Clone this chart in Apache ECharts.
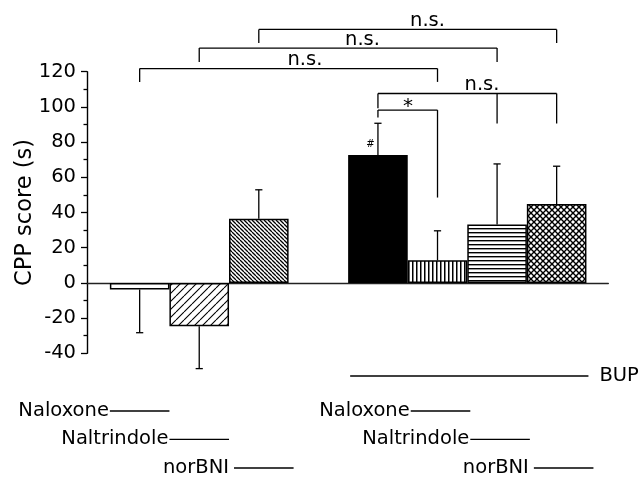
<!DOCTYPE html>
<html><head><meta charset="utf-8">
<script src="https://cdn.jsdelivr.net/npm/echarts/dist/echarts.min.js"></script>
<style>html,body{margin:0;padding:0;background:#fff}#c{width:643px;height:478px}</style>
</head><body><div id="c"></div>
<script>
// ---------- data ----------
const categories = ['Naloxone', 'Naltrindole', 'norBNI', '', 'BUP', 'BUP + Naloxone', 'BUP + Naltrindole', 'BUP + norBNI'];
const cppMean = [-3.8, -24.6, 36.4, null, 72.7, 12.8, 33.2, 44.9];
const cppSem  = [24.5, 24.1, 16.5, null, 18.0, 16.8, 34.4, 21.4];
const barMarks = ['', '', '', '', '#', '', '', ''];
const yTickLabels = ['-40', '-20', '0', '20', '40', '60', '80', '100', '120'];
// significance comparisons (category indices, 0-based) and labels
const bracketLegs = [[2, 7], [1, 6], [0, 5], [4, 6, 7], [4, 5]];
const bracketLabel = ['n.s.', 'n.s.', 'n.s.', 'n.s.', '*'];
// treatment rows under the plot
const rowLabels = ['Naloxone', 'Naltrindole', 'norBNI'];
const rowLeftCat = [0, 1, 2];
const rowRightCat = [5, 6, 7];
const bupLabel = 'BUP';
const bupCats = [4, 7];

// ---------- layout (not data) ----------
const FONT = '"DejaVu Sans", sans-serif';
const bracketTop = [144.0, 133.4, 121.8, 107.6, 98.2];
const bracketLegBottom = [[136.3, 136.3], [125.5, 125.5], [114.2, 114.2], [99.3, 90.6, 90.6], [94.0, 48.5]];
const bracketTextX = [5.832, 4.741, 3.775, 6.747, 5.505];
const rowOffsetPx = [57.7, 86, 114.7];
const rowShiftPx = [[0, 3], [0, 3], [5, 7]];
const bupOffsetPx = 22.7;

function makePattern(w, h, draw) {
  const c = document.createElement('canvas');
  c.width = w; c.height = h;
  const g = c.getContext('2d');
  g.fillStyle = '#fff'; g.fillRect(0, 0, w, h);
  g.strokeStyle = '#000'; g.fillStyle = '#000';
  draw(g, w, h);
  return { image: c, repeat: 'repeat' };
}
function diag(g, s, lw, dir) {
  g.lineWidth = lw;
  g.beginPath();
  for (let k = -1; k <= 1; k++) {
    if (dir > 0) { g.moveTo(k * s, s); g.lineTo(k * s + s, 0); }
    else { g.moveTo(k * s, 0); g.lineTo(k * s + s, s); }
  }
  g.stroke();
}
const fills = [
  '#fff',
  makePattern(8, 8, (g) => diag(g, 8, 1.1, 1)),
  makePattern(4, 4, (g) => diag(g, 4, 1.3, -1)),
  '#000',
  makePattern(4, 4, (g) => g.fillRect(0, 0, 1.5, 4)),
  makePattern(4, 4, (g) => g.fillRect(0, 0, 4, 1.4)),
  makePattern(6, 6, (g) => { diag(g, 6, 1.4, 1); diag(g, 6, 1.4, -1); })
];

const barData = [];
const errData = [];
cppMean.forEach((v, i) => {
  if (v == null) return;
  barData.push({ value: [i + 1, v], name: categories[i], itemStyle: { color: fills[barData.length] } });
  errData.push([i + 1, v, cppSem[i], i]);
});

const chart = echarts.init(document.getElementById('c'), null, { renderer: 'canvas' });
const option = {
  animation: false,
  backgroundColor: '#fff',
  grid: { left: 87, right: 34.7, top: 71.7, bottom: 124.7 },
  xAxis: {
    type: 'value', min: 0.116, max: 8.867,
    axisLine: { show: true, onZero: true, lineStyle: { color: '#222', width: 1.4 } },
    axisTick: { show: false }, axisLabel: { show: false }, splitLine: { show: false }
  },
  yAxis: {
    type: 'value', min: -40, max: 120, interval: 20,
    name: 'CPP score (s)', nameLocation: 'middle', nameGap: 50, nameRotate: 90,
    nameMoveOverlap: false,
    nameTextStyle: { fontFamily: FONT, fontSize: 22.5, color: '#000' },
    axisLine: { show: true, onZero: false, lineStyle: { color: '#000', width: 1.4 } },
    axisTick: { show: true, inside: false, length: 6, lineStyle: { color: '#000', width: 1.3 } },
    minorTick: { show: true, splitNumber: 2, length: 3.5, lineStyle: { color: '#000', width: 1.3 } },
    axisLabel: {
      margin: 11, fontFamily: FONT, fontSize: 19.5, color: '#000',
      formatter: (v) => yTickLabels[Math.round((v + 40) / 20)]
    },
    splitLine: { show: false }
  },
  series: [
    {
      type: 'bar', barWidth: 59.6, data: barData, z: 3,
      itemStyle: { borderColor: '#000', borderWidth: 1.5 }
    },
    {
      type: 'custom', clip: false, z: 4, data: errData,
      renderItem: (params, api) => {
        const x = api.value(0), v = api.value(1), e = api.value(2), idx = api.value(3);
        const end = v >= 0 ? v + e : v - e;
        const p0 = api.coord([x, v]), p1 = api.coord([x, end]);
        const ch = [
          { type: 'line', shape: { x1: p0[0], y1: p0[1], x2: p1[0], y2: p1[1] }, style: { stroke: '#000', lineWidth: 1.3 } },
          { type: 'line', shape: { x1: p1[0] - 3.6, y1: p1[1], x2: p1[0] + 3.6, y2: p1[1] }, style: { stroke: '#000', lineWidth: 1.3 } }
        ];
        if (barMarks[idx]) {
          ch.push({ type: 'text', style: { text: barMarks[idx], x: p0[0] - 7.5, y: p0[1] - 10.5, font: '10px ' + FONT, fill: '#000', align: 'center', verticalAlign: 'middle' } });
        }
        return { type: 'group', children: ch };
      }
    },
    {
      type: 'custom', clip: false, z: 5,
      data: bracketLegs.map((legs, i) => [legs[0] + 1, bracketTop[i], i]),
      renderItem: (params, api) => {
        const i = api.value(2);
        const legs = bracketLegs[i];
        const top = bracketTop[i];
        const a = api.coord([legs[0] + 1, top]);
        const b = api.coord([legs[legs.length - 1] + 1, top]);
        const ch = [{ type: 'line', shape: { x1: a[0], y1: a[1], x2: b[0], y2: b[1] }, style: { stroke: '#000', lineWidth: 1.3 } }];
        legs.forEach((c, k) => {
          const p = api.coord([c + 1, top]);
          const q = api.coord([c + 1, bracketLegBottom[i][k]]);
          ch.push({ type: 'line', shape: { x1: p[0], y1: p[1], x2: q[0], y2: q[1] }, style: { stroke: '#000', lineWidth: 1.3 } });
        });
        const t = api.coord([bracketTextX[i], top]);
        const isStar = bracketLabel[i] === '*';
        ch.push({ type: 'text', style: {
          text: bracketLabel[i], x: t[0], y: isStar ? t[1] - 3 : t[1] + 1.5,
          font: (isStar ? '20px ' : '19.5px ') + FONT, fill: '#000', align: 'center',
          verticalAlign: isStar ? 'middle' : 'bottom' } });
        return { type: 'group', children: ch };
      }
    },
    {
      type: 'custom', clip: false, z: 5,
      data: rowLabels.map((t, r) => [rowLeftCat[r] + 1, -40, r, 0])
        .concat(rowLabels.map((t, r) => [rowRightCat[r] + 1, -40, r, 1]))
        .concat([[bupCats[0] + 1, -40, -1, 2]]),
      renderItem: (params, api) => {
        const c = api.value(0), r = api.value(2), side = api.value(3);
        const font = '19.5px ' + FONT;
        if (side === 2) {
          const a = api.coord([bupCats[0] + 0.5, -40]);
          const b = api.coord([bupCats[1] + 1.5, -40]);
          const y = a[1] + bupOffsetPx;
          return { type: 'group', children: [
            { type: 'line', shape: { x1: a[0] + 2, y1: y, x2: b[0] + 2, y2: y }, style: { stroke: '#000', lineWidth: 1.3 } },
            { type: 'text', style: { text: bupLabel, x: b[0] + 13, y: y, font: font, fill: '#000', align: 'left', verticalAlign: 'middle' } }
          ] };
        }
        const shift = rowShiftPx[r][side];
        const a = api.coord([c - 0.5, -40]);
        const b = api.coord([c + 0.5, -40]);
        const y = a[1] + rowOffsetPx[r];
        return { type: 'group', children: [
          { type: 'line', shape: { x1: a[0] + shift, y1: y, x2: b[0] + shift, y2: y }, style: { stroke: '#000', lineWidth: 1.3 } },
          { type: 'text', style: { text: rowLabels[r], x: a[0] + shift - (r === 2 ? 5 : 1), y: y, font: font, fill: '#000', align: 'right', verticalAlign: 'middle' } }
        ] };
      }
    }
  ]
};
chart.setOption(option);
</script></body></html>
